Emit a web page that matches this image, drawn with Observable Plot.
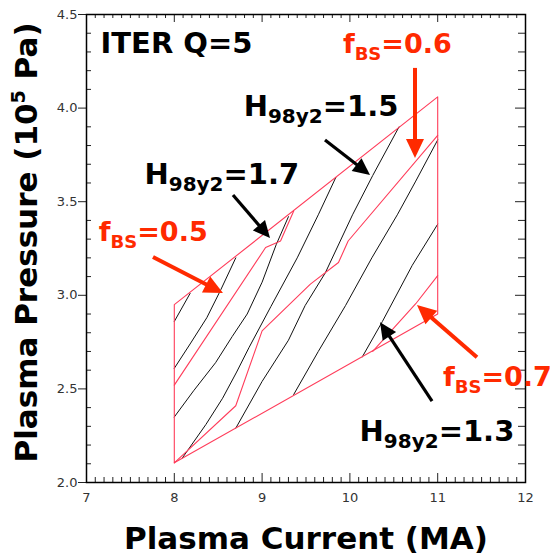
<!DOCTYPE html>
<html>
<head>
<meta charset="utf-8">
<script src="https://cdn.jsdelivr.net/npm/d3@7"></script>
<script src="https://cdn.jsdelivr.net/npm/@observablehq/plot@0.6"></script>
<style>
  body { margin: 0; background: #fff; }
</style>
</head>
<body>
<div id="chart"></div>
<script>
// ---- Operating space in (plasma current [MA], plasma pressure [1e5 Pa]) ----
const boundary = [[8.0, 2.105], [8.0, 2.95], [11.0, 4.06], [11.0, 2.90], [8.0, 2.105]];

// Bootstrap-fraction contours
const fbs05 = [[8.0, 2.52], [9.04, 3.255], [9.21, 3.29], [9.36, 3.45]];
const fbs06 = [[8.0, 2.105], [8.70, 2.41], [9.00, 2.81], [9.55, 3.06], [9.87, 3.175], [9.98, 3.29], [11.0, 3.854]];
const fbs07 = [[11.0, 3.105], [10.75, 2.955], [10.26, 2.70]];

// H98(y,2) confinement contours, 1.9 down to 1.3
const h19 = [[8.00, 2.86], [8.18, 3.01]];
const h18 = [[8.00, 2.61], [8.18, 2.74], [8.37, 2.88], [8.53, 3.03], [8.70, 3.20]];
const h17 = [[8.00, 2.35], [8.22, 2.49], [8.47, 2.64], [8.66, 2.78], [8.83, 2.90], [9.00, 3.07], [9.16, 3.27], [9.30, 3.42]];
const h16 = [[8.09, 2.13], [8.36, 2.31], [8.55, 2.45], [8.71, 2.59], [8.85, 2.72], [9.10, 2.94], [9.40, 3.20], [9.64, 3.43], [9.84, 3.63]];
const h15 = [[8.70, 2.29], [9.00, 2.54], [9.30, 2.76], [9.49, 2.945], [9.72, 3.12], [10.03, 3.43], [10.26, 3.64], [10.56, 3.90]];
const h14 = [[9.36, 2.47], [9.64, 2.70], [9.95, 2.945], [10.25, 3.20], [10.54, 3.43], [10.75, 3.61], [11.00, 3.83]];
const h13 = [[10.14, 2.67], [10.37, 2.86], [10.71, 3.16], [11.00, 3.38]];

// Axis ticks
const xMajor = [7, 8, 9, 10, 11, 12];
const yMajor = [2.0, 2.5, 3.0, 3.5, 4.0, 4.5];
const xMinor = d3.range(71, 120).filter(v => v % 10 !== 0).map(v => v / 10);
const yMinor = d3.range(21, 45).filter(v => v % 5 !== 0).map(v => v / 10);

// Axis titles
const xTitle = "Plasma Current (MA)";
const yTitle = ["Plasma Pressure (10", "5", " Pa)"];

// Annotations: base text, subscript, remainder
const labels = [
  {kind: "title", x: 7.16, y: 4.343, base: "ITER Q=5", sub: "", tail: ""},
  {kind: "h", x: 8.79, y: 4.006, base: "H", sub: "98y2", tail: "=1.5"},
  {kind: "h", x: 7.66, y: 3.645, base: "H", sub: "98y2", tail: "=1.7"},
  {kind: "fbs", x: 7.14, y: 3.338, base: "f", sub: "BS", tail: "=0.5"},
  {kind: "fbs", x: 9.92, y: 4.340, base: "f", sub: "BS", tail: "=0.6"},
  {kind: "fbs", x: 11.06, y: 2.563, base: "f", sub: "BS", tail: "=0.7"},
  {kind: "h", x: 10.11, y: 2.273, base: "H", sub: "98y2", tail: "=1.3"}
];

// Pointer arrows: tail (x1,y1) to tip (x2,y2)
const arrows = [
  {kind: "h", x1: 8.674, y1: 3.533, x2: 9.096, y2: 3.303},
  {kind: "h", x1: 9.722, y1: 3.827, x2: 10.235, y2: 3.640},
  {kind: "fbs", x1: 10.747, y1: 4.212, x2: 10.747, y2: 3.731},
  {kind: "fbs", x1: 7.763, y1: 3.202, x2: 8.560, y2: 3.009},
  {kind: "fbs", x1: 11.453, y1: 2.667, x2: 10.770, y2: 2.945},
  {kind: "h", x1: 10.941, y1: 2.432, x2: 10.349, y2: 2.854}
];

const RED = "#ff2a00", CONTOUR_RED = "#ff3c5a";
const textColor = k => (k === "fbs" ? RED : "#000");
const textSize = k => (k === "fbs" ? 27 : 29);
const arrowStyle = {
  h: {color: "#000", width: 3.2, head: 17, half: 8},
  fbs: {color: RED, width: 4, head: 19, half: 9}
};

const toRows = (pts, id) => pts.map(([x, y]) => ({id, x, y}));
const redRows = [
  ...toRows(boundary, "boundary"),
  ...toRows(fbs05, "fbs0.5"),
  ...toRows(fbs06, "fbs0.6"),
  ...toRows(fbs07, "fbs0.7")
];
const blackRows = [
  ...toRows(h19, "1.9"), ...toRows(h18, "1.8"), ...toRows(h17, "1.7"),
  ...toRows(h16, "1.6"), ...toRows(h15, "1.5"), ...toRows(h14, "1.4"), ...toRows(h13, "1.3")
];

const W = 550, H = 557, ML = 86, MR = 25, MT = 14, MB = 75;
const FW = W - ML - MR, FH = H - MT - MB;
const FONT = "DejaVu Sans, sans-serif";

function drawArrows(index, scales) {
  const g = d3.create("svg:g");
  for (const a of arrows) {
    const s = arrowStyle[a.kind];
    const x1 = scales.x(a.x1), y1 = scales.y(a.y1);
    const x2 = scales.x(a.x2), y2 = scales.y(a.y2);
    const len = Math.hypot(x2 - x1, y2 - y1);
    const ux = (x2 - x1) / len, uy = (y2 - y1) / len;
    const bx = x2 - ux * s.head, by = y2 - uy * s.head;
    g.append("line")
      .attr("x1", x1).attr("y1", y1)
      .attr("x2", bx + ux * 2).attr("y2", by + uy * 2)
      .attr("stroke", s.color).attr("stroke-width", s.width);
    g.append("path")
      .attr("d", `M${x2},${y2}L${bx - uy * s.half},${by + ux * s.half}L${bx + uy * s.half},${by - ux * s.half}Z`)
      .attr("fill", s.color);
  }
  return g.node();
}

const chart = Plot.plot({
  width: W,
  height: H,
  marginLeft: ML,
  marginRight: MR,
  marginTop: MT,
  marginBottom: MB,
  style: {background: "white", fontFamily: FONT},
  x: {domain: [7, 12], axis: null},
  y: {domain: [2, 4.5], axis: null},
  marks: [
    // contour lines
    Plot.line(blackRows, {x: "x", y: "y", z: "id", stroke: "#111", strokeWidth: 1}),
    Plot.line(redRows, {x: "x", y: "y", z: "id", stroke: CONTOUR_RED, strokeWidth: 1.1}),
    // frame and ticks
    Plot.ruleX(xMajor, {x: d => d, insetTop: FH - 9, stroke: "#222"}),
    Plot.ruleX(xMinor, {x: d => d, insetTop: FH - 5, stroke: "#222"}),
    Plot.ruleX(xMajor, {x: d => d, insetBottom: FH - 8, stroke: "#222"}),
    Plot.ruleX(xMinor, {x: d => d, insetBottom: FH - 4, stroke: "#222"}),
    Plot.ruleY(yMajor, {y: d => d, insetLeft: -8, insetRight: FW, stroke: "#222"}),
    Plot.ruleY(yMinor, {y: d => d, insetRight: FW - 5, stroke: "#222"}),
    Plot.ruleY(yMajor, {y: d => d, insetLeft: FW - 10, stroke: "#222"}),
    Plot.ruleY(yMinor, {y: d => d, insetLeft: FW - 7, stroke: "#222"}),
    Plot.frame({stroke: "#000", strokeWidth: 1.5}),
    // tick labels
    Plot.text(xMajor, {x: d => d, frameAnchor: "bottom", lineAnchor: "middle", dy: 15, text: d => String(d), fontSize: 13, fill: "#333"}),
    Plot.text(yMajor, {y: d => d, frameAnchor: "left", dx: -9, textAnchor: "end", text: d => d.toFixed(1), fontSize: 13, fill: "#333"}),
    // axis titles
    Plot.text([xTitle], {frameAnchor: "bottom", lineAnchor: "middle", textAnchor: "middle", dy: 57, text: d => d, fontSize: 31, fontWeight: "bold", fill: "#000"}),
    Plot.text([yTitle.join("")], {frameAnchor: "left", textAnchor: "middle", lineAnchor: "middle", dx: -59, dy: -6, rotate: -90, text: d => d, fontSize: 31, fontWeight: "bold", fill: "#000"}),
    // annotations and arrows
    drawArrows,
    Plot.text(labels, {x: "x", y: "y", text: d => d.base + d.sub + d.tail, textAnchor: "start", lineAnchor: "middle",
      fill: d => textColor(d.kind), fontSize: d => textSize(d.kind), fontWeight: "bold"})
  ]
});

// Rich text: subscripts on the annotation labels and the exponent in the y title
const svg = d3.select(chart);
const byText = new Map(labels.filter(d => d.sub).map(d => [d.base + d.sub + d.tail, d]));
svg.selectAll("text").each(function () {
  const content = this.textContent;
  const t = d3.select(this);
  if (byText.has(content)) {
    const d = byText.get(content);
    const size = textSize(d.kind);
    t.text(null);
    t.append("tspan").text(d.base);
    t.append("tspan").attr("font-size", Math.round(size * 0.68)).attr("dy", 7).text(d.sub);
    t.append("tspan").attr("dy", -7).text(d.tail);
  } else if (content === yTitle.join("")) {
    t.text(null);
    t.append("tspan").text(yTitle[0]);
    t.append("tspan").attr("font-size", 19).attr("dy", -12).text(yTitle[1]);
    t.append("tspan").attr("dy", 12).text(yTitle[2]);
  }
});

document.getElementById("chart").append(chart);
</script>
</body>
</html>
